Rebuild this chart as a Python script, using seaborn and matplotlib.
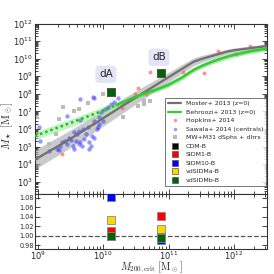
import numpy as np
import matplotlib
matplotlib.use('Agg')
import matplotlib.pyplot as plt
import matplotlib.ticker as mticker
from matplotlib.lines import Line2D
import seaborn as sns

sns.set_style('ticks')
plt.rcParams['font.family'] = ['DejaVu Sans']

# ---- data (log10 values) ----
# Moster+ 2013 (z=0)
moster_lx = [8.95, 9.5, 10.0, 10.5, 11.0, 11.38, 11.5, 11.89, 12.0, 12.5]
moster_ly = [4.25, 5.45, 6.62, 7.8, 8.95, 9.82, 9.98, 10.40, 10.48, 10.72]
moster_err = [0.55, 0.5, 0.45, 0.38, 0.28, 0.22, 0.2, 0.14, 0.13, 0.12]

# Behroozi+ 2013 (z=0): extrapolated (dotted) and fitted (solid) parts
behr_ext_lx = [8.95, 9.5, 9.95, 10.2]
behr_ext_ly = [5.6, 6.35, 6.98, 7.36]
behr_lx = [10.2, 10.5, 10.87, 11.0, 11.2, 11.38, 11.5, 11.7, 11.89, 12.0, 12.25, 12.5]
behr_ly = [7.36, 7.85, 8.32, 8.52, 8.92, 9.36, 9.58, 9.88, 10.11, 10.22, 10.42, 10.58]
behr_ext_err = 0.22
behr_err = 0.13

# Hopkins+ 2014
hop_lx = [9.37, 9.85, 10.71, 10.53, 10.48, 10.66, 10.38, 10.28, 11.22, 11.54, 11.75, 12.03, 12.24]
hop_ly = [4.58, 6.34, 9.27, 8.32, 7.98, 7.98, 7.60, 7.17, 9.25, 9.21, 10.43, 10.26, 10.72]

# Sawala+ 2014 (centrals)
saw_lx = [9.86, 9.64, 9.45, 9.65, 9.85, 9.02, 9.76, 9.69, 9.63, 9.55, 9.60, 9.83, 9.47,
          9.42, 9.50, 9.58, 9.65, 9.70, 9.78, 9.86, 9.63, 9.45, 9.37, 9.34, 9.29, 9.53,
          9.68, 9.81, 9.78, 9.55, 9.17, 9.32, 9.03, 9.73, 9.91, 10.17, 10.12, 10.07,
          10.02, 9.97, 9.94, 9.99, 9.94, 10.22, 9.92, 9.84]
saw_ly = [7.79, 7.70, 6.75, 6.53, 6.45, 6.13, 6.09, 6.00, 5.90, 5.81, 5.72, 5.62, 5.47,
          5.34, 5.40, 5.34, 5.28, 5.43, 5.25, 5.47, 5.15, 5.15, 5.28, 5.06, 4.87, 5.06,
          5.06, 5.06, 4.87, 4.87, 4.72, 4.81, 5.34, 5.72, 6.00, 7.51, 7.42, 7.23,
          7.13, 6.94, 6.66, 6.47, 6.28, 7.79, 6.10, 7.81]

# MW+M31 dSphs + dIrrs
dw_lx = [8.97, 9.38, 9.55, 9.63, 9.76, 9.32, 9.27, 9.17, 9.99, 10.71, 10.63, 10.53, 10.30, 10.62]
dw_ly = [6.68, 7.28, 7.04, 7.13, 7.47, 6.57, 5.72, 5.15, 7.98, 7.60, 7.42, 7.32, 6.66, 7.59]

# simulated dwarfs dA, dB
models = ['CDM-B', 'SIDM1-B', 'SIDM10-B', 'vdSIDMa-B', 'vdSIDMb-B']
model_colors = ['black', 'red', 'blue', 'gold', 'darkgreen']
halo_lx = [10.12, 10.89]
mstar_ly = [8.08, 9.17]
ratio_dA = [1.000, 1.010, 1.081, 1.032, 1.000]
ratio_dB = [1.000, 1.041, 0.990, 1.013, 0.995]

# ---- figure ----
fig = plt.figure(figsize=(2.74, 2.74), dpi=100)
ax = fig.add_axes([0.128, 0.292, 0.846, 0.622])
axr = fig.add_axes([0.128, 0.092, 0.846, 0.200], sharex=ax)

p = lambda v: 10 ** np.asarray(v, dtype=float)

# bands
ax.fill_between(p(moster_lx), p(np.subtract(moster_ly, moster_err)),
                p(np.add(moster_ly, moster_err)), color='#a8a8a8', alpha=0.6, lw=0, zorder=1)
ax.fill_between(p(behr_ext_lx), p(np.subtract(behr_ext_ly, behr_ext_err)),
                p(np.add(behr_ext_ly, behr_ext_err)), color='#99ee99', alpha=0.6, lw=0, zorder=1)
ax.fill_between(p(behr_lx), p(np.subtract(behr_ly, behr_err)),
                p(np.add(behr_ly, behr_err)), color='#66dd66', alpha=0.6, lw=0, zorder=1)

# scatter data
sns.scatterplot(x=p(dw_lx), y=p(dw_ly), marker='s', s=9, color='#bbbbbb', linewidth=0,
                ax=ax, zorder=2)
sns.scatterplot(x=p(saw_lx), y=p(saw_ly), marker='o', s=10, color='#3333ff', alpha=0.5,
                linewidth=0, ax=ax, zorder=3)
sns.scatterplot(x=p(hop_lx), y=p(hop_ly), marker='o', s=8, color='#ff6666', alpha=0.7,
                linewidth=0, ax=ax, zorder=3)

# relations
sns.lineplot(x=p(moster_lx), y=p(moster_ly), color='#707070', lw=1.6, ax=ax, zorder=4)
sns.lineplot(x=p(behr_ext_lx), y=p(behr_ext_ly), color='#22bb22', lw=1.8,
             linestyle=(0, (1, 1.2)), ax=ax, zorder=4)
sns.lineplot(x=p(behr_lx), y=p(behr_ly), color='#33cc33', lw=1.8, ax=ax, zorder=4)

for m, c, r1, r2 in zip(models, model_colors, ratio_dA, ratio_dB):
    ax.scatter(p(halo_lx), p(mstar_ly), marker='s', s=30, color=c, edgecolor='#555555',
               linewidth=0.6, zorder=6)
    axr.scatter(p(halo_lx), [r1, r2], marker='s', s=30, color=c, edgecolor='#888888',
                linewidth=0.6, zorder=6)

ax.text(p(10.04), p(9.11), 'dA', fontsize=7.5, ha='center', va='center',
        bbox=dict(boxstyle='round,pad=0.35', fc='#e3e5f7', ec='none'))
ax.text(p(10.85), p(10.08), 'dB', fontsize=7.5, ha='center', va='center',
        bbox=dict(boxstyle='round,pad=0.35', fc='#e3e5f7', ec='none'))

axr.axhline(1.0, color='#555555', lw=0.9, ls='--', zorder=1)

# axes
ax.set_xscale('log')
ax.set_yscale('log')
ax.set_xlim(9e8, 3.2e12)
ax.set_ylim(2e2, 1e12)
ax.yaxis.set_major_locator(mticker.LogLocator(base=10, numticks=20))
ax.yaxis.set_minor_locator(mticker.LogLocator(base=10, subs=np.arange(2, 10), numticks=100))
ax.xaxis.set_minor_locator(mticker.LogLocator(base=10, subs=np.arange(2, 10), numticks=100))
axr.set_ylim(0.972, 1.088)
axr.set_yticks([0.98, 1.00, 1.02, 1.04, 1.06, 1.08])
axr.yaxis.set_major_formatter(mticker.FormatStrFormatter('%.2f'))

for a in (ax, axr):
    a.tick_params(which='both', direction='in', top=True, right=True, labelsize=6, pad=1.5,
                  width=0.6)
    a.tick_params(which='major', length=3.5)
    a.tick_params(which='minor', length=2)
    for s in a.spines.values():
        s.set_linewidth(0.8)
        s.set_color('#333333')
ax.tick_params(labelbottom=False)
axr.tick_params(axis='y', labelsize=4.7, pad=1)
axr.tick_params(axis='x', pad=0.8)

ax.set_ylabel(r'$M_\star\ [\mathrm{M}_\odot]$', fontsize=7.8, math_fontfamily='cm')
ax.yaxis.set_label_coords(-0.085, 0.40)
axr.set_xlabel(r'$M_{200,\mathrm{crit}}\ [\mathrm{M}_\odot]$', fontsize=7.3,
               math_fontfamily='cm', labelpad=-1.5)

# legend
handles = [
    Line2D([], [], color='#707070', lw=1.6, label='Moster+ 2013 (z=0)'),
    Line2D([], [], color='#33cc33', lw=1.6, label='Behroozi+ 2013 (z=0)'),
    Line2D([], [], color='#ff6666', alpha=0.7, marker='o', ls='none', ms=2.5, mew=0,
           label='Hopkins+ 2014'),
    Line2D([], [], color='#3333ff', alpha=0.5, marker='o', ls='none', ms=2.5, mew=0,
           label='Sawala+ 2014 (centrals)'),
    Line2D([], [], color='#bbbbbb', marker='s', ls='none', ms=2.5, mew=0,
           label='MW+M31 dSphs + dIrrs'),
]
for m, c in zip(models, model_colors):
    handles.append(Line2D([], [], color=c, marker='s', ls='none', ms=5, mec='#555555',
                          mew=0.5, label=m))
leg = ax.legend(handles=handles, loc='lower right', bbox_to_anchor=(0.998, 0.047),
                borderaxespad=0, fontsize=4.5, frameon=True, fancybox=False,
                labelspacing=0.5, handlelength=2.0, borderpad=0.5, handletextpad=0.8)
leg.get_frame().set_edgecolor('#555555')
leg.get_frame().set_linewidth(0.7)
leg.set_zorder(10)

fig.savefig('out.png', dpi=100)
